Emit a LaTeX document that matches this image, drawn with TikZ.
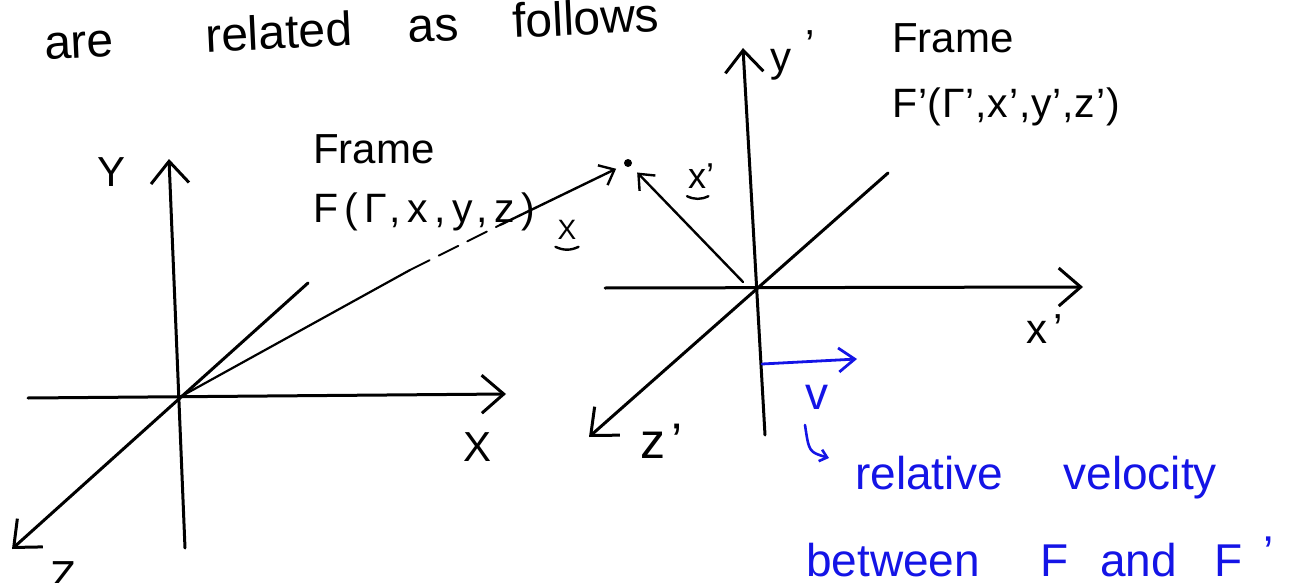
\documentclass[tikz,border=0pt]{standalone}
\usepackage{fontspec}
\setmainfont{Liberation Sans}
\usetikzlibrary{arrows.meta}
\definecolor{pen}{RGB}{20,20,230}
\newcommand{\hand}[1]{\fontsize{#1}{#1}\selectfont}

\begin{document}
\begin{tikzpicture}[x=1pt,y=-1pt,line cap=round,line join=round,
  axis/.style={line width=3pt,-{Straight Barb[length=22pt,width=38pt]}},
  vec/.style={line width=2.4pt,-{Straight Barb[length=13pt,width=22pt]},shorten >=9pt},
  lbl/.style={inner sep=0pt,font=\hand{42}},
  vtext/.style={pen,inner sep=0pt,font=\hand{46}}]
\useasboundingbox (0,0) rectangle (1290,583);

\node[lbl,anchor=base west,rotate=2.7,font=\hand{48}] (intro) at (45,60)
  {are\hspace{92pt}related\hspace{56pt}as\hspace{54pt}follows};

% frame F
\coordinate (oF) at (180,397);
\coordinate (yF) at (169,159); \coordinate (yFb) at (185,548);
\coordinate (xF) at (506,394); \coordinate (xFb) at (28,398);
\coordinate (zF) at (12,549);  \coordinate (zFb) at (308,283);
\draw[axis] (yFb) -- (yF);
\draw[axis] (xFb) -- (xF);
\draw[axis] (zFb) -- (zF);
\node[lbl] (labY) at (112,172) {Y};
\node[lbl] (labX) at (478,447) {X};
\node[lbl,anchor=base] (labZ) at (63,590) {Z};
\node[lbl,anchor=base west] (frameF) at (313,163) {Frame};
\node[lbl,anchor=base west,font=\hand{41}\addfontfeatures{LetterSpace=16}] (nameF) at (313,222) {F(Γ,x,y,z)};

% the point and its position vectors
\node[circle,fill,inner sep=0pt,minimum size=8pt] (pt) at (628,163) {};
\coordinate (d1) at (410,270); \coordinate (d2) at (500,225);
\draw[line width=2.2pt] (oF) -- (d1);
\draw[line width=1.8pt,dash pattern=on 22pt off 10pt] (d1) -- (d2);
\draw[vec] (d2) -- (pt);
\node[lbl,font=\hand{28}] (vecX) at (567,230) {X};
\draw[line width=2.4pt] ([shift={(-2pt,-7pt)}]vecX.south west) to[bend right=25] ([shift={(2pt,-7pt)}]vecX.south east);

% frame F'
\coordinate (oG) at (757,285);
\coordinate (yG) at (743,48);  \coordinate (yGb) at (765,435);
\coordinate (xG) at (1083,287); \coordinate (xGb) at (605,288);
\coordinate (zG) at (589,437); \coordinate (zGb) at (888,173);
\draw[axis] (yGb) -- (yG);
\draw[axis] (xGb) -- (xG);
\draw[axis] (zGb) -- (zG);
\node[lbl,anchor=base west] (labYp) at (770,72) {y\hspace{14pt}\raisebox{12pt}{'}};
\node[lbl,anchor=base west] (labXp) at (1026,343) {x\hspace{6pt}'};
\node[lbl,anchor=base west,font=\hand{50}] (labZp) at (640,458) {z\hspace{6pt}'};
\node[lbl,anchor=base west] (frameG) at (892,53) {Frame};
\node[lbl,anchor=base west,font=\hand{41}\addfontfeatures{LetterSpace=2}] (nameG) at (892,118) {F'(Γ',x',y',z')};
\coordinate (tailx) at (743,282);
\draw[vec] (tailx) -- (pt);
\node[lbl,anchor=base west,font=\hand{36}] (vecXp) at (688,188) {x'};
\draw[line width=2.4pt] ([shift={(-1pt,-8pt)}]vecXp.south west) to[bend right=25] ([shift={(-6pt,-8pt)}]vecXp.south east);

% relative velocity
\coordinate (v0) at (762,364); \coordinate (v1) at (857,359);
\draw[pen,line width=2.8pt,-{Straight Barb[length=16pt,width=24pt]}] (v0) -- (v1);
\node[vtext] (labv) at (817,397) {v};
\coordinate (hk0) at (805,425); \coordinate (hk1) at (809,452); \coordinate (hk2) at (829,458);
\draw[pen,line width=2.6pt,-{Straight Barb[length=7pt,width=12pt]}] (hk0) .. controls (hk1) .. (hk2);
\node[vtext,anchor=base west] (rel) at (855,489) {relative\hspace{60pt}velocity};
\node[vtext,anchor=base west] (betw) at (806,576) {between\hspace{60pt}F\hspace{32pt}and\hspace{38pt}F\hspace{20pt}\raisebox{8pt}{'}};
\end{tikzpicture}
\end{document}
